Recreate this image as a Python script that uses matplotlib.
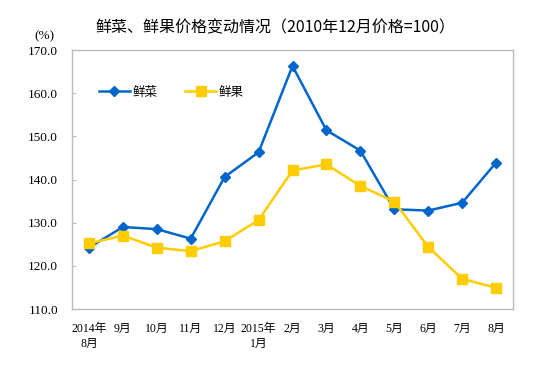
import numpy as np
import matplotlib.pyplot as plt

plt.rcParams['font.family'] = ['Liberation Serif', 'Noto Sans CJK SC', 'DejaVu Sans']

months = ["2014年\n8月", "9月", "10月", "11月", "12月", "2015年\n1月", "2月",
          "3月", "4月", "5月", "6月", "7月", "8月"]
vegetables = [124.2, 129.0, 128.5, 126.3, 140.6, 146.3, 166.3,
              151.4, 146.7, 133.1, 132.8, 134.6, 143.9]
fruits = [125.2, 127.0, 124.2, 123.4, 125.7, 130.6, 142.1,
          143.5, 138.5, 134.9, 124.4, 117.0, 114.9]
yticks = [110, 120, 130, 140, 150, 160, 170]

blue = "#0066CC"
yellow = "#FFCC00"

fig = plt.figure(figsize=(5.51, 3.78), dpi=100)
ax = fig.add_axes([72/551, 1 - 309/378, (513-72)/551, (309-50)/378])

x = np.arange(len(months))
ax.plot(x, vegetables, '-D', color=blue, lw=1.8, ms=5, label="鲜菜")
ax.plot(x, fruits, '-s', color=yellow, lw=1.8, ms=6.5, label="鲜果")

ax.set_xlim(-0.5, len(months) - 0.5)
ax.set_ylim(110, 170)
ax.set_yticks(yticks)
ax.set_yticklabels(["%.1f" % v for v in yticks], fontsize=9.5)
ax.set_xticks(x)
ax.set_xticklabels(months, fontsize=8.5, va='top', linespacing=1.35)
ax.tick_params(axis='x', length=0, pad=10)
ax.tick_params(axis='y', direction='in', length=3, color='#BBBBBB', pad=10)
for s in ax.spines.values():
    s.set_color('#BBBBBB')
    s.set_linewidth(1)

ax.text(-0.063, 1.03, "(%)", transform=ax.transAxes, fontsize=9.5, ha='center', va='bottom')

fig.suptitle("鲜菜、鲜果价格变动情况（2010年12月价格=100）", x=0.5, y=0.948,
             fontsize=11.5, family=['Noto Sans CJK SC', 'DejaVu Sans'])

leg = ax.legend(loc='upper left', bbox_to_anchor=(0.035, 0.905), ncol=2, frameon=False,
                handlelength=2.5, columnspacing=2.2, handletextpad=0.2,
                prop={'family': ['Noto Sans CJK SC', 'DejaVu Sans'], 'size': 9})

fig.savefig("out.png", dpi=100)
